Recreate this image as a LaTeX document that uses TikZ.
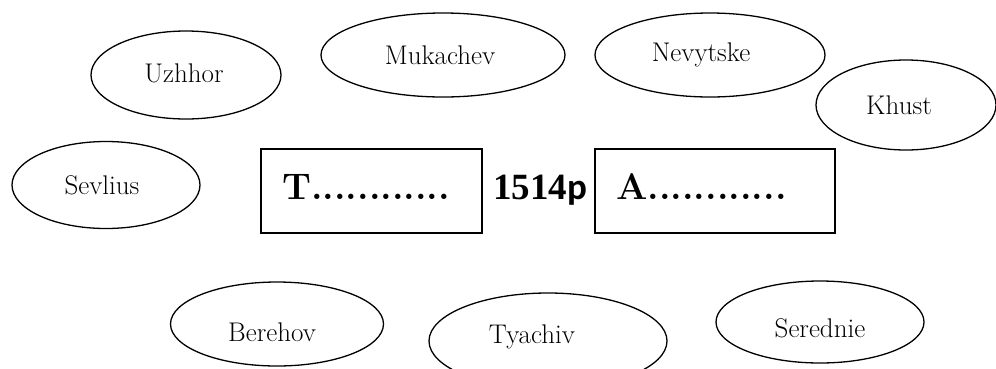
\documentclass[tikz,border=0pt]{standalone}
\usepackage{fontspec}
\newfontfamily\libserif{Liberation Serif}
\newfontfamily\carlito{Carlito}
\usetikzlibrary{shapes.geometric}
\tikzset{
  town/.style={draw=black, line width=1.3pt, ellipse, inner sep=0pt},
  lbl/.style={inner sep=0pt, font=\fontsize{27}{30}\selectfont},
  namebox/.style={draw=black, line width=1.3pt, rectangle, inner sep=0pt},
  bigtxt/.style={inner sep=0pt, anchor=base west, font=\fontsize{37}{40}\selectfont\bfseries}
}
\begin{document}
\begin{tikzpicture}[x=1pt,y=-1pt]
\useasboundingbox (0,0) rectangle (996,368);
\clip (0,0) rectangle (996,368);
% ellipses
\node[town, minimum width=190pt, minimum height=88pt] (uzh) at (186,75) {};
\node[lbl] (uzht) at (184,73) {Uzhhor};
\node[town, minimum width=244pt, minimum height=84pt] (muk) at (443,55) {};
\node[lbl] (mukt) at (440,55) {Mukachev};
\node[town, minimum width=230pt, minimum height=84pt] (nev) at (710,55) {};
\node[lbl] (nevt) at (701,55) {Nevytske};
\node[town, minimum width=180pt, minimum height=90pt] (khu) at (906,105) {};
\node[lbl] (khut) at (899,105) {Khust};
\node[town, minimum width=188pt, minimum height=87pt] (sev) at (106,185) {};
\node[lbl] (sevt) at (102,185) {Sevlius};
\node[town, minimum width=213pt, minimum height=84pt] (ber) at (277,324) {};
\node[lbl] (bert) at (272,332) {Berehov};
\node[town, minimum width=238pt, minimum height=96pt] (tya) at (548,341) {};
\node[lbl] (tyat) at (532,337) {Tyachiv};
\node[town, minimum width=208pt, minimum height=82pt] (ser) at (820,322) {};
\node[lbl] (sert) at (820,328) {Serednie};
% boxes
\node[namebox, minimum width=221pt, minimum height=84pt] (tbox) at (371.5,191) {};
\node[bigtxt] (ttxt) at (282,199) {T............};
\node[namebox, minimum width=240pt, minimum height=84pt] (abox) at (715,191) {};
\node[bigtxt] (atxt) at (616,199) {A............};
\node[bigtxt] (year) at (493,199) {{\libserif 1514}{\carlito p}};
\end{tikzpicture}
\end{document}
